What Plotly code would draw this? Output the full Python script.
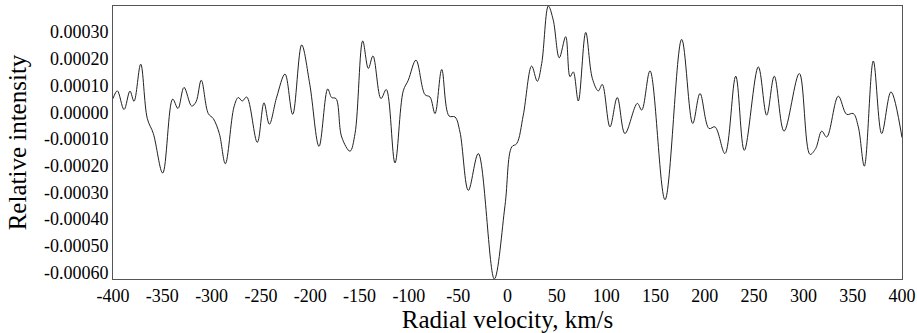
import plotly.graph_objects as go

# Radial velocity (km/s)
velocity = [-400.0, -395.6, -388.8, -382.8, -378.7, -371.9, -365.2, -359.1, -349.6, -339.5,
            -334.1, -328.0, -320.2, -315.8, -310.5, -303.4, -298.3, -292.2, -286.1, -277.3,
            -273.0, -268.9, -264.4, -253.7, -246.9, -241.5, -234.0, -225.6, -217.8, -208.7,
            -200.5, -191.1, -182.3, -178.3, -173.9, -168.1, -159.7, -154.6, -146.8, -141.1,
            -136.4, -128.3, -122.9, -114.1, -105.7, -100.6, -92.8, -83.7, -78.6, -73.5,
            -66.7, -59.3, -53.2, -48.2, -39.7, -29.6, -13.4, -2.5, 4.3, 9.3,
            16.0, 24.5, 30.2, 34.7, 41.4, 46.4, 52.5, 59.0, 63.4, 66.7,
            71.8, 79.3, 86.0, 92.1, 96.1, 103.9, 111.3, 119.1, 131.6, 136.1,
            144.5, 159.7, 176.6, 187.8, 195.2, 204.3, 210.4, 220.5, 231.4, 240.1,
            254.3, 262.8, 270.5, 280.4, 295.9, 306.7, 312.5, 318.6, 323.7, 335.4,
            343.9, 350.6, 355.7, 361.8, 370.9, 379.4, 388.8, 400.0]

# Relative intensity (units of 1e-4)
intensity_e4 = [0.51, 0.80, 0.10, 0.79, 0.41, 1.80, -0.24, -0.80, -2.28, 0.49,
                0.14, 0.93, 0.23, 0.39, 1.20, -0.05, -0.24, -0.80, -1.93, 0.20,
                0.55, 0.42, 0.57, -1.13, 0.35, -0.45, 0.57, 1.43, -0.08, 2.52,
                1.05, -1.28, 0.87, 0.55, 0.51, -0.93, -1.46, -0.80, 2.67, 1.64,
                2.11, 0.51, 0.85, -1.90, 0.80, 1.20, 1.95, 0.66, 0.57, -0.05,
                1.60, -0.14, -0.18, -0.74, -2.93, -1.55, -6.25, -3.49, -1.30, -1.18,
                -0.11, 1.73, 1.16, 1.83, 3.98, 3.45, 2.04, 2.83, 1.33, 1.51,
                0.42, 2.99, 1.27, 0.80, 1.04, -0.55, 0.55, -0.80, 0.33, 0.08,
                1.55, -3.28, 2.73, -0.42, 0.70, -0.61, -0.55, -1.55, 1.35, -1.43,
                1.70, -0.11, 1.35, -0.71, 1.45, -1.58, -1.36, -0.71, -0.93, 0.60,
                -0.08, -0.05, -0.55, -2.02, 1.92, -0.80, 0.76, -0.95]

intensity = [v * 1e-4 for v in intensity_e4]

x_tickvals = [-400, -350, -300, -250, -200, -150, -100, -50, 0, 50, 100, 150, 200, 250, 300, 350, 400]
x_ticktext = ["-400", "-350", "-300", "-250", "-200", "-150", "-100", "-50", "0",
              "50", "100", "150", "200", "250", "300", "350", "400"]
y_tickvals = [0.0003, 0.0002, 0.0001, 0.0, -0.0001, -0.0002, -0.0003, -0.0004, -0.0005, -0.0006]
y_ticktext = ["0.00030", "0.00020", "0.00010", "0.00000", "-0.00010", "-0.00020",
              "-0.00030", "-0.00040", "-0.00050", "-0.00060"]

FONT = "Liberation Serif"

fig = go.Figure(go.Scatter(
    x=velocity, y=intensity, mode="lines",
    line=dict(color="#222222", width=1, shape="spline", smoothing=1.0),
    showlegend=False, hoverinfo="skip",
))

fig.update_layout(
    width=917, height=333,
    margin=dict(l=113, r=15, t=6, b=54),
    paper_bgcolor="white", plot_bgcolor="white",
    font=dict(family=FONT, color="black"),
)

fig.update_xaxes(
    range=[-400, 400], tickvals=x_tickvals, ticktext=x_ticktext,
    showgrid=False, zeroline=False, ticks="",
    showline=True, linecolor="#555555", linewidth=1, mirror=True,
    tickfont=dict(family=FONT, size=18, color="black"),
    title=dict(text="Radial velocity, km/s", font=dict(family=FONT, size=25, color="black"), standoff=0),
    automargin=False,
)
fig.update_yaxes(
    range=[-0.000625, 0.000398], tickvals=y_tickvals, ticktext=y_ticktext,
    showgrid=False, zeroline=False, ticks="",
    showline=True, linecolor="#555555", linewidth=1, mirror=True,
    tickfont=dict(family=FONT, size=18, color="black"),
    title=dict(text="Relative intensity", font=dict(family=FONT, size=25, color="black"), standoff=10),
    automargin=False,
)

fig.write_html("out.html")
